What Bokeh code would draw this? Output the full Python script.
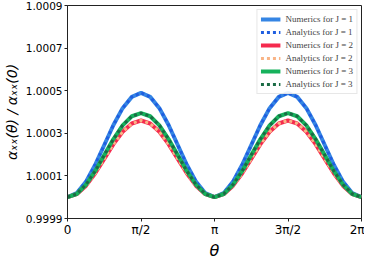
from bokeh.plotting import figure
from bokeh.models import FixedTicker, PrintfTickFormatter, Legend, LegendItem, Range1d
from bokeh.embed import file_html
from bokeh.resources import INLINE

# theta in units of pi
theta_over_pi = [0.0, 0.0625, 0.125, 0.1875, 0.25, 0.3125, 0.375, 0.4375, 0.5,
                 0.5625, 0.625, 0.6875, 0.75, 0.8125, 0.875, 0.9375, 1.0,
                 1.0625, 1.125, 1.1875, 1.25, 1.3125, 1.375, 1.4375, 1.5,
                 1.5625, 1.625, 1.6875, 1.75, 1.8125, 1.875, 1.9375, 2.0]

num_j1 = [1.000000, 1.000019, 1.000072, 1.000151, 1.000245, 1.000339, 1.000418, 1.000471, 1.000490,
          1.000471, 1.000418, 1.000339, 1.000245, 1.000151, 1.000072, 1.000019, 1.000000,
          1.000019, 1.000072, 1.000151, 1.000245, 1.000339, 1.000418, 1.000471, 1.000490,
          1.000471, 1.000418, 1.000339, 1.000245, 1.000151, 1.000072, 1.000019, 1.000000]
num_j2 = [1.000000, 1.000014, 1.000053, 1.000111, 1.000180, 1.000249, 1.000307, 1.000346, 1.000360,
          1.000346, 1.000307, 1.000249, 1.000180, 1.000111, 1.000053, 1.000014, 1.000000,
          1.000014, 1.000053, 1.000111, 1.000180, 1.000249, 1.000307, 1.000346, 1.000360,
          1.000346, 1.000307, 1.000249, 1.000180, 1.000111, 1.000053, 1.000014, 1.000000]
num_j3 = [1.000000, 1.000015, 1.000058, 1.000122, 1.000198, 1.000273, 1.000337, 1.000380, 1.000395,
          1.000380, 1.000337, 1.000273, 1.000198, 1.000122, 1.000058, 1.000015, 1.000000,
          1.000015, 1.000058, 1.000122, 1.000198, 1.000273, 1.000337, 1.000380, 1.000395,
          1.000380, 1.000337, 1.000273, 1.000198, 1.000122, 1.000058, 1.000015, 1.000000]
ana_j1 = list(num_j1)
ana_j2 = list(num_j2)
ana_j3 = list(num_j3)

y_ticks = [0.9999, 1.0001, 1.0003, 1.0005, 1.0007, 1.0009]
x_ticks = [0, 0.5, 1, 1.5, 2]
x_tick_labels = {0: "0", 0.5: "π/2", 1: "π", 1.5: "3π/2", 2: "2π"}

p = figure(width=364, height=262, output_backend="svg", toolbar_location=None,
           x_range=Range1d(0, 2), y_range=Range1d(0.9999, 1.0009),
           min_border_left=56, min_border_right=3, min_border_top=5, min_border_bottom=39)

p.xgrid.visible = False
p.ygrid.visible = False
p.outline_line_color = "#222222"
p.outline_line_width = 1

col_num = ["#3585e4", "#f52a4e", "#16b25c"]
col_ana = ["#1f5ee0", "#f9b486", "#1b6b45"]

items = []
for i, (nv, av) in enumerate([(num_j1, ana_j1), (num_j2, ana_j2), (num_j3, ana_j3)]):
    rn = p.line(theta_over_pi, nv, line_color=col_num[i], line_width=4)
    ra = p.line(theta_over_pi, av, line_color=col_ana[i], line_width=3, line_dash="3 3")
    items.append(LegendItem(label=f"Numerics for J = {i+1}", renderers=[rn]))
    items.append(LegendItem(label=f"Analytics for J = {i+1}", renderers=[ra]))

legend = Legend(items=items, location="top_right",
                label_text_font="Liberation Serif", label_text_font_size="9px",
                label_height=12, label_standoff=5, glyph_width=20, glyph_height=12,
                spacing=1, padding=3, margin=4,
                border_line_color="#d0d0d0", border_line_width=1,
                background_fill_alpha=0.9)
p.add_layout(legend)

for ax in (p.xaxis[0], p.yaxis[0]):
    ax.major_label_text_font = "DejaVu Sans"
    ax.major_label_text_font_size = "10.5px"
    ax.major_label_text_color = "#000000"
    ax.axis_line_color = "#222222"
    ax.major_tick_line_color = "#222222"
    ax.major_tick_out = 3
    ax.major_tick_in = 0
    ax.minor_tick_line_color = None
    ax.axis_label_text_font = "DejaVu Sans"
    ax.axis_label_text_font_style = "italic"
    ax.axis_label_text_color = "#000000"

p.yaxis.ticker = FixedTicker(ticks=y_ticks)
p.yaxis.formatter = PrintfTickFormatter(format="%.4f")
p.yaxis.major_label_standoff = 2
p.yaxis.axis_label = "αₓₓ(θ) / αₓₓ(0)"
p.yaxis.axis_label_text_font_size = "14px"
p.yaxis.axis_label_standoff = 3

p.xaxis.ticker = FixedTicker(ticks=x_ticks)
p.xaxis.major_label_overrides = x_tick_labels
p.xaxis.major_label_text_font_size = "12px"
p.xaxis.major_label_standoff = 1
p.xaxis.axis_label = "θ"
p.xaxis.axis_label_text_font_size = "16px"
p.xaxis.axis_label_standoff = 1

open("out.html", "w").write(file_html(p, INLINE))
